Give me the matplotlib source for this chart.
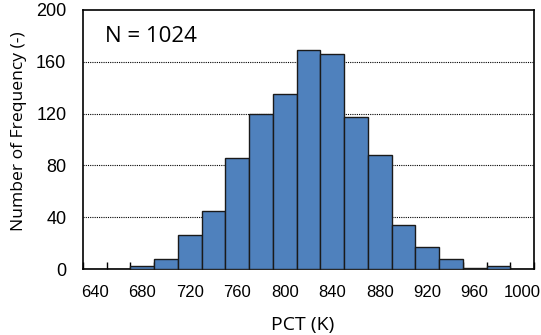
import matplotlib
matplotlib.use("Agg")
import matplotlib.pyplot as plt
from matplotlib import font_manager as fm

categories = [640, 660, 680, 700, 720, 740, 760, 780, 800, 820, 840, 860, 880, 900, 920, 940, 960, 980, 1000]
counts = [0, 0, 2, 8, 26, 45, 86, 120, 135, 169, 166, 117, 88, 34, 17, 8, 1, 2, 0]
yticks = [0, 40, 80, 120, 160, 200]
annotation = "N = 1024"

names = {f.name for f in fm.fontManager.ttflist}
tick_font = [f for f in ["Liberation Sans", "DejaVu Sans"] if f in names] or ["DejaVu Sans"]
label_font = [f for f in ["Open Sans", "Lato", "DejaVu Sans"] if f in names]

fig = plt.figure(figsize=(5.41, 3.35), dpi=100)
ax = fig.add_axes([83/541, 1-269/335, (534-83)/541, (269-10)/335])

x = list(range(len(categories)))
ax.bar(x, counts, width=1.0, color="#4F81BD", edgecolor="#1a1a1a", linewidth=1.0, zorder=3)

ax.set_xlim(-0.5, len(categories) - 0.5)
ax.set_ylim(0, 200)

# y axis
ax.set_yticks(yticks)
ax.set_yticklabels([str(v) for v in yticks], fontfamily=tick_font, fontsize=13)
ax.tick_params(axis="y", length=0, pad=12)
for v in yticks[1:-1]:
    ax.axhline(v, color="black", linestyle=(0, (1, 1)), linewidth=0.8, zorder=1)

# x axis: tick marks at category boundaries, labels at every other category center
ax.set_xticks([i - 0.5 for i in range(len(categories) + 1)])
ax.set_xticklabels([])
ax.tick_params(axis="x", which="major", direction="in", length=5, width=1.0)
ax.set_xticks(x[::2], minor=True)
ax.set_xticklabels([str(c) for c in categories[::2]], minor=True, fontfamily=tick_font, fontsize=12)
ax.tick_params(axis="x", which="minor", length=0, pad=11.5)

for s in ax.spines.values():
    s.set_linewidth(1.2)
    s.set_color("black")

ax.set_xlabel("PCT (K)", fontfamily=label_font, fontsize=14)
ax.xaxis.set_label_coords(0.487, -0.18)
ax.set_ylabel("Number of Frequency (-)", fontfamily=label_font, fontsize=12.6)
ax.yaxis.set_label_coords(-0.124, 0.533)

ax.text(0.048, 0.898, annotation, transform=ax.transAxes, fontfamily=label_font,
        fontsize=16, va="center", ha="left")

fig.savefig("out.png", dpi=100)
